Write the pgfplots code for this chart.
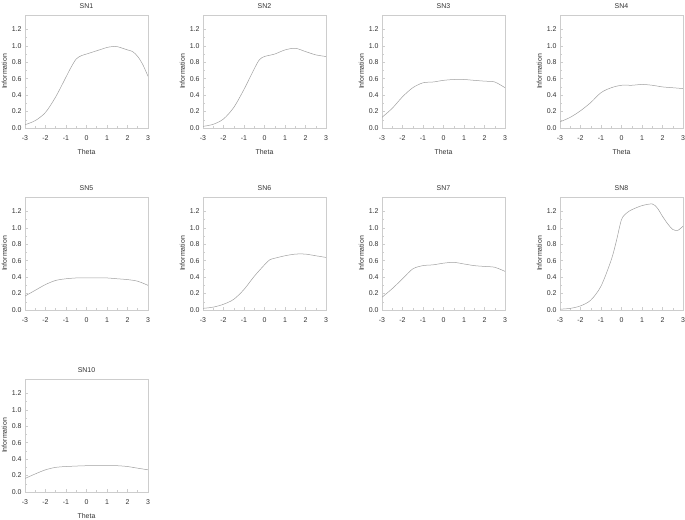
\documentclass[border=0pt]{standalone}
\usepackage{fontspec}
\setmainfont{Liberation Sans}
\usepackage{pgfplots}
\pgfplotsset{compat=1.18}

\definecolor{axgray}{RGB}{205,205,205}
\definecolor{curvegray}{RGB}{160,160,160}
\definecolor{txtgray}{RGB}{50,50,50}

\pgfplotsset{
  panel/.style={
    scale only axis,
    width=123bp, height=113bp,
    anchor=north west,
    xmin=-3, xmax=3, ymin=0, ymax=1.375,
    xtick={-3,-2,-1,0,1,2,3},
    ytick={0,0.2,0.4,0.6,0.8,1.0,1.2},
    minor x tick num=1, minor y tick num=1,
    /pgf/number format/assume math mode=true,
    yticklabel style={/pgf/number format/.cd,fixed,fixed zerofill,precision=1},
    xticklabel style={yshift=-4bp},
    axis line style={axgray,line width=0.6bp},
    tick style={axgray,line width=0.5bp},
    major tick length=3bp, minor tick length=2bp,
    tick align=inside, xtick pos=bottom, ytick pos=left,
    ticklabel style={font=\fontsize{7}{8}\selectfont,text=txtgray},
    label style={font=\fontsize{7}{8}\selectfont,text=txtgray},
    title style={font=\fontsize{7}{8}\selectfont,text=txtgray,yshift=-3bp},
    xlabel={Theta}, ylabel={Information},
    ylabel style={yshift=-2bp},
    xlabel style={yshift=-2bp},
  },
  curve/.style={curvegray,line width=0.5bp,smooth,tension=0.5,no marks},
}

\begin{document}
\begin{tikzpicture}
\path[use as bounding box] (0bp,0bp) rectangle (685bp,-520bp);

%% row 1
\begin{axis}[panel, at={(25bp,-15bp)}, title={SN1}]
\addplot[curve] coordinates {
  (-3,0.04)(-2.5,0.09)(-2,0.19)(-1.5,0.38)(-1,0.62)(-0.75,0.74)(-0.5,0.84)
  (-0.25,0.88)(0,0.9)(0.25,0.92)(0.5,0.94)(1,0.98)(1.25,0.99)(1.5,0.99)
  (2,0.95)(2.25,0.93)(2.5,0.87)(2.75,0.77)(3,0.63)};
\end{axis}

\begin{axis}[panel, at={(203bp,-15bp)}, title={SN2}]
\addplot[curve] coordinates {
  (-3,0.02)(-2.5,0.045)(-2,0.11)(-1.5,0.25)(-1,0.47)(-0.5,0.72)(-0.25,0.83)
  (0,0.87)(0.5,0.9)(1,0.95)(1.5,0.97)(2,0.93)(2.5,0.89)(3,0.87)};
\end{axis}

\begin{axis}[panel, at={(382bp,-15bp)}, title={SN3}]
\addplot[curve] coordinates {
  (-3,0.13)(-2.5,0.24)(-2,0.38)(-1.5,0.49)(-1,0.55)(-0.5,0.56)(0,0.58)
  (0.5,0.59)(1,0.59)(1.5,0.58)(2,0.57)(2.5,0.56)(3,0.49)};
\end{axis}

\begin{axis}[panel, at={(560bp,-15bp)}, title={SN4}]
\addplot[curve] coordinates {
  (-3,0.075)(-2.5,0.13)(-2,0.21)(-1.5,0.31)(-1,0.43)(-0.5,0.49)(0,0.52)
  (0.5,0.52)(1,0.53)(1.5,0.52)(2,0.50)(2.5,0.49)(3,0.48)};
\end{axis}

%% row 2 (no x label)
\begin{axis}[panel, at={(25bp,-197bp)}, title={SN5}, xlabel={}]
\addplot[curve] coordinates {
  (-3,0.17)(-2.5,0.24)(-2,0.31)(-1.5,0.36)(-1,0.38)(-0.5,0.39)(0,0.39)
  (0.5,0.39)(1,0.39)(1.5,0.38)(2,0.37)(2.5,0.35)(3,0.30)};
\end{axis}

\begin{axis}[panel, at={(203bp,-197bp)}, title={SN6}, xlabel={}]
\addplot[curve] coordinates {
  (-3,0.02)(-2.5,0.035)(-2,0.07)(-1.5,0.13)(-1,0.25)(-0.5,0.41)(0,0.55)
  (0.25,0.61)(0.5,0.63)(1,0.66)(1.5,0.68)(2,0.68)(2.5,0.66)(3,0.64)};
\end{axis}

\begin{axis}[panel, at={(382bp,-197bp)}, title={SN7}, xlabel={}]
\addplot[curve] coordinates {
  (-3,0.155)(-2.5,0.26)(-2,0.38)(-1.5,0.5)(-1,0.54)(-0.5,0.55)(0,0.57)
  (0.5,0.58)(1,0.56)(1.5,0.54)(2,0.53)(2.5,0.52)(3,0.47)};
\end{axis}

\begin{axis}[panel, at={(560bp,-197bp)}, title={SN8}, xlabel={}]
\addplot[curve] coordinates {
  (-3,0.01)(-2.5,0.02)(-2,0.05)(-1.5,0.12)(-1,0.29)(-0.5,0.61)(-0.25,0.84)
  (0,1.1)(0.25,1.18)(0.5,1.22)(1,1.27)(1.5,1.29)(1.75,1.24)(2,1.14)
  (2.25,1.05)(2.5,0.98)(2.75,0.97)(3,1.02)};
\end{axis}

%% row 3
\begin{axis}[panel, at={(25bp,-379bp)}, title={SN10}]
\addplot[curve] coordinates {
  (-3,0.165)(-2.5,0.22)(-2,0.27)(-1.5,0.30)(-1,0.31)(0,0.32)(1,0.32)
  (1.5,0.32)(2,0.31)(2.5,0.29)(3,0.27)};
\end{axis}

\end{tikzpicture}
\end{document}
